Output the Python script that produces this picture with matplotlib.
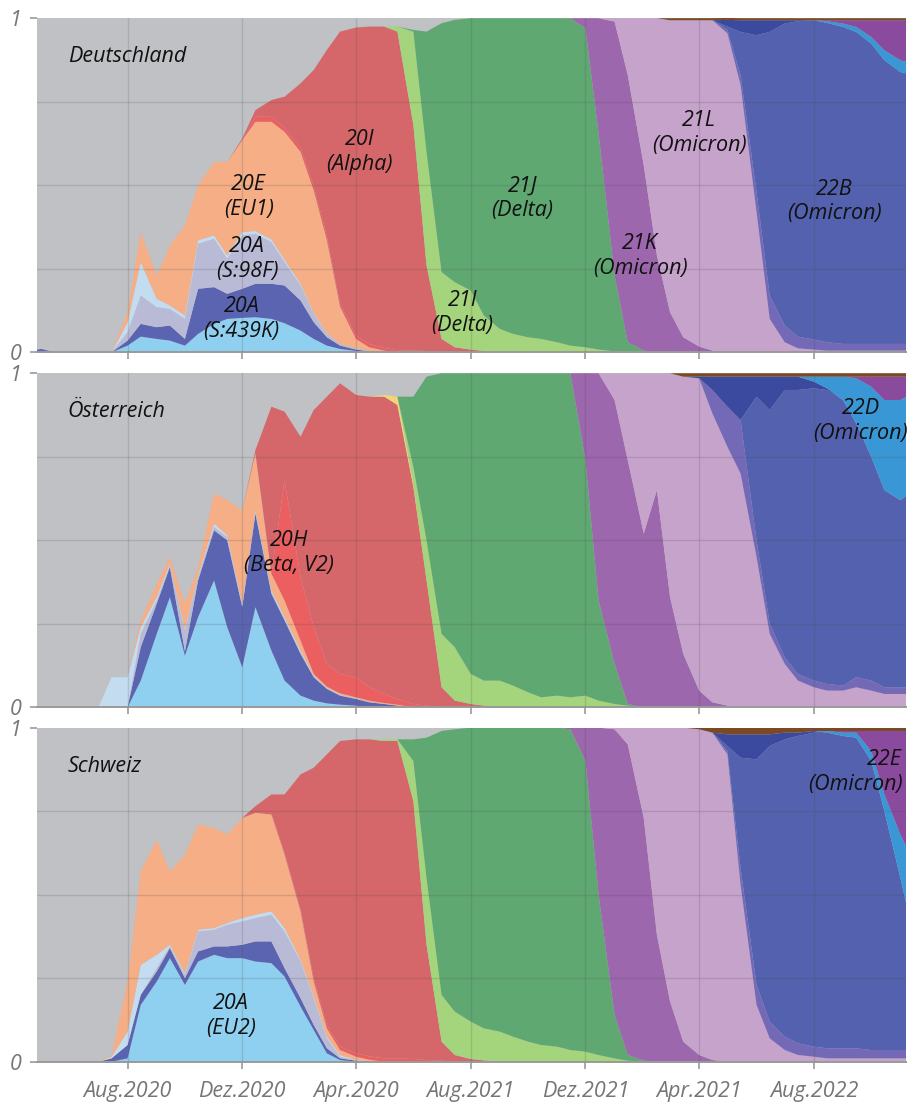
import numpy as np
import pandas as pd
import matplotlib
matplotlib.use('Agg')
import matplotlib.pyplot as plt

plt.rcParams['font.family'] = ['Open Sans', 'DejaVu Sans']

# semi-monthly sampling dates (1st and 15th)
dates = pd.date_range('2020-04-15', '2022-11-15', freq='SMS')

tick_dates = ['2020-08-01', '2020-12-01', '2021-04-01', '2021-08-01',
              '2021-12-01', '2022-04-01', '2022-08-01']
tick_labels = ['Aug.2020', 'Dez.2020', 'Apr.2020', 'Aug.2021',
               'Dez.2021', 'Apr.2021', 'Aug.2022']

# clade shares, each as (first date, values from that date on)
# ---- Deutschland
de_eu2 = ('2020-08-01', [0.02, 0.047, 0.04, 0.035, 0.02, 0.055, 0.085, 0.1, 0.103, 0.105, 0.1, 0.087,
                         0.065, 0.04, 0.02, 0.01, 0.004])
de_s439k = ('2020-05-01', [0.01, 0, 0, 0, 0, 0, 0.015, 0.038, 0.035, 0.045, 0.02, 0.135, 0.11, 0.075,
                           0.087, 0.1, 0.105, 0.113, 0.09, 0.05, 0.025, 0.01, 0.004, 0.003])
de_s98f = ('2020-08-01', [0.025, 0.085, 0.06, 0.05, 0.06, 0.135, 0.145, 0.105, 0.16, 0.15, 0.125, 0.07,
                          0.045, 0.025, 0.01, 0.005, 0.004, 0.002])
de_20a = ('2020-08-01', [0.03, 0.1, 0.025, 0.01, 0.01, 0.01, 0.01, 0.01, 0.01, 0.008, 0.008, 0.007,
                         0.005, 0.003, 0.002])
de_eu1 = ('2020-08-01', [0.03, 0.09, 0.07, 0.18, 0.27, 0.165, 0.22, 0.28, 0.275, 0.327, 0.352, 0.383,
                         0.395, 0.367, 0.279, 0.112, 0.028, 0.01, 0.005])
de_beta = ('2020-12-15', [0.015, 0.015, 0.012, 0.012, 0.012, 0.012, 0.01, 0.01, 0.01, 0.008, 0.006,
                          0.005, 0.004, 0.003])
de_alpha = ('2020-12-01', [0.005, 0.02, 0.05, 0.093, 0.193, 0.348, 0.557, 0.813, 0.922, 0.95, 0.962,
                           0.954, 0.675, 0.256, 0.037, 0.015, 0.008, 0.004])
de_gamma = ('2021-05-01', [0.0])
de_21i = ('2021-05-15', [0.015, 0.28, 0.34, 0.2, 0.195, 0.177, 0.106, 0.07, 0.055, 0.045, 0.04, 0.03,
                         0.02, 0.015, 0.008, 0.003])
de_21j = ('2021-06-01', [0.005, 0.36, 0.745, 0.785, 0.815, 0.89, 0.93, 0.945, 0.955, 0.96, 0.97, 0.98,
                         0.955, 0.647, 0.227, 0.03, 0.005])
de_21k = ('2021-12-01', [0.03, 0.345, 0.76, 0.8, 0.555, 0.29, 0.12, 0.045, 0.017, 0.005])
de_21l = ('2022-01-01', [0.01, 0.17, 0.44, 0.71, 0.874, 0.949, 0.977, 0.989, 0.955, 0.8, 0.42, 0.1, 0.03,
                         0.012, 0.008, 0.005, 0.005, 0.005, 0.005, 0.005, 0.005, 0.005])
de_22a = ('2022-05-01', [0.01, 0.03, 0.06, 0.07, 0.05, 0.035, 0.03, 0.025, 0.02, 0.02, 0.02, 0.02, 0.02, 0.02])
de_22b = ('2022-05-01', [0.01, 0.129, 0.469, 0.789, 0.904, 0.944, 0.956, 0.956, 0.949, 0.934, 0.899,
                         0.849, 0.814, 0.804])
de_22c = ('2022-05-01', [0.02, 0.035, 0.045, 0.035, 0.01, 0.003])
de_22d = ('2022-08-15', [0.005, 0.01, 0.015, 0.02, 0.03, 0.035, 0.035])
de_22e = ('2022-08-15', [0.003, 0.01, 0.02, 0.05, 0.09, 0.12, 0.13])
de_rest = ('2022-03-01', [0.006, 0.006, 0.006, 0.006, 0.006, 0.006, 0.006, 0.006, 0.006, 0.006, 0.006,
                          0.006, 0.006, 0.006, 0.006, 0.006, 0.006, 0.006])

# ---- Österreich
at_eu2 = ('2020-08-15', [0.08, 0.22, 0.33, 0.155, 0.27, 0.38, 0.24, 0.12, 0.3, 0.17, 0.08, 0.035, 0.02,
                         0.012, 0.008, 0.005])
at_s439k = ('2020-08-15', [0.1, 0.09, 0.09, 0.012, 0.11, 0.15, 0.26, 0.18, 0.28, 0.17, 0.18, 0.125, 0.07,
                           0.043, 0.027, 0.02, 0.015, 0.01, 0.005])
at_s98f = ('2020-08-15', [0.04, 0.01, 0.005, 0.063, 0.01, 0.01, 0.01, 0.005, 0.005, 0.005, 0.005, 0.005,
                          0.003, 0.002, 0.001, 0.001, 0.001])
at_20a = ('2020-07-15', [0.09, 0.09, 0.02, 0.01, 0.005, 0.005, 0.005, 0.01, 0.005, 0.005, 0.005, 0.005,
                         0.005, 0.005, 0.002, 0.001, 0.001, 0.001])
at_eu1 = ('2020-08-15', [0.02, 0.04, 0.02, 0.075, 0.025, 0.09, 0.105, 0.28, 0.17, 0.05, 0.05, 0.03, 0.005,
                         0.004, 0.005, 0.003, 0.004, 0.003, 0.003])
at_beta = ('2021-01-15', [0.36, 0.19, 0.14, 0.068, 0.058, 0.06, 0.04, 0.027, 0.017, 0.01, 0.005])
at_alpha = ('2020-12-15', [0.01, 0.5, 0.205, 0.42, 0.65, 0.8, 0.87, 0.845, 0.87, 0.89, 0.88, 0.65, 0.375,
                           0.06, 0.02, 0.01, 0.005])
at_gamma = ('2021-05-01', [0.005, 0.025, 0.01])
at_21i = ('2021-06-01', [0.05, 0.12, 0.16, 0.16, 0.09, 0.075, 0.08, 0.065, 0.045, 0.03, 0.035, 0.03,
                         0.035, 0.02, 0.01, 0.005])
at_21j = ('2021-06-01', [0.21, 0.49, 0.78, 0.82, 0.9, 0.92, 0.92, 0.935, 0.955, 0.97, 0.965, 0.97, 0.705,
                         0.3, 0.12, 0.005])
at_21k = ('2021-12-01', [0.26, 0.68, 0.79, 0.73, 0.52, 0.65, 0.33, 0.16, 0.05, 0.015, 0.005])
at_21l = ('2022-01-01', [0.08, 0.26, 0.48, 0.35, 0.67, 0.83, 0.935, 0.865, 0.775, 0.7, 0.45, 0.22, 0.13,
                         0.08, 0.06, 0.05, 0.05, 0.06, 0.05, 0.04, 0.04, 0.04])
at_22a = ('2022-04-15', [0.07, 0.12, 0.16, 0.05, 0.03, 0.02, 0.02, 0.02, 0.02, 0.015, 0.03, 0.03, 0.02,
                         0.02, 0.02])
at_22b = ('2022-06-01', [0.43, 0.64, 0.8, 0.85, 0.875, 0.88, 0.855, 0.76, 0.67, 0.59, 0.56, 0.59])
at_22c = ('2022-04-01', [0.005, 0.04, 0.09, 0.13, 0.06, 0.1, 0.04, 0.04, 0.02, 0.005])
at_22d = ('2022-08-01', [0.015, 0.035, 0.07, 0.135, 0.21, 0.27, 0.3, 0.29])
at_22e = ('2022-09-15', [0.005, 0.03, 0.07, 0.07, 0.05])
at_rest = ('2022-03-15', [0.01, 0.01, 0.01, 0.01, 0.01, 0.01, 0.01, 0.01, 0.01, 0.01, 0.01, 0.01, 0.01,
                          0.01, 0.01, 0.01, 0.01])

# ---- Schweiz
ch_eu2 = ('2020-08-01', [0.01, 0.17, 0.24, 0.31, 0.23, 0.3, 0.32, 0.31, 0.31, 0.3, 0.295, 0.255, 0.165,
                         0.095, 0.025, 0.005])
ch_s439k = ('2020-07-15', [0.01, 0.04, 0.03, 0.03, 0.03, 0.02, 0.03, 0.025, 0.035, 0.04, 0.06, 0.065,
                           0.025, 0.025, 0.015, 0.015, 0.005, 0.003])
ch_s98f = ('2020-09-01', [0.01, 0.005, 0.01, 0.06, 0.05, 0.065, 0.07, 0.07, 0.08, 0.11, 0.11, 0.08, 0.03,
                          0.005, 0.002, 0.002])
ch_20a = ('2020-07-15', [0.005, 0.04, 0.09, 0.04, 0.005, 0.005, 0.005, 0.005, 0.005, 0.01, 0.01, 0.01,
                         0.01, 0.005, 0.005, 0.005, 0.005, 0.001])
ch_eu1 = ('2020-07-15', [0.005, 0.15, 0.28, 0.345, 0.22, 0.355, 0.315, 0.3, 0.265, 0.3, 0.305, 0.29, 0.22,
                         0.145, 0.045, 0.025, 0.015, 0.009, 0.004])
ch_beta = ('2021-01-01', [0.005, 0.005, 0.008, 0.01, 0.01, 0.01, 0.01, 0.01, 0.01, 0.01, 0.008, 0.005,
                          0.003])
ch_alpha = ('2020-12-15', [0.02, 0.055, 0.175, 0.402, 0.63, 0.81, 0.915, 0.94, 0.949, 0.95, 0.95, 0.772,
                           0.345, 0.057, 0.02, 0.008, 0.004])
ch_gamma = ('2021-05-01', [0.0])
ch_21i = ('2021-05-01', [0.005, 0.005, 0.12, 0.2, 0.14, 0.13, 0.112, 0.096, 0.09, 0.075, 0.06, 0.05,
                         0.045, 0.035, 0.03, 0.02, 0.01, 0.003])
ch_21j = ('2021-06-01', [0.065, 0.42, 0.79, 0.845, 0.88, 0.9, 0.91, 0.925, 0.94, 0.95, 0.955, 0.96, 0.87,
                         0.48, 0.13, 0.017, 0.003])
ch_21k = ('2021-11-15', [0.005, 0.1, 0.5, 0.855, 0.93, 0.727, 0.38, 0.18, 0.06, 0.02, 0.005])
ch_21l = ('2022-01-01', [0.005, 0.05, 0.27, 0.62, 0.82, 0.94, 0.975, 0.98, 0.92, 0.53, 0.17, 0.07, 0.035,
                         0.02, 0.015, 0.01, 0.01, 0.01, 0.01, 0.01, 0.01, 0.01])
ch_22a = ('2022-05-01', [0.01, 0.05, 0.06, 0.05, 0.04, 0.035, 0.03, 0.03, 0.03, 0.03, 0.025, 0.025, 0.025,
                         0.025])
ch_22b = ('2022-05-01', [0.015, 0.33, 0.675, 0.825, 0.89, 0.92, 0.94, 0.945, 0.935, 0.93, 0.865, 0.715,
                         0.515, 0.345])
ch_22c = ('2022-05-01', [0.035, 0.07, 0.075, 0.035, 0.02, 0.01, 0.005])
ch_22d = ('2022-08-15', [0.005, 0.01, 0.015, 0.03, 0.05, 0.13, 0.22])
ch_22e = ('2022-09-01', [0.005, 0.005, 0.06, 0.19, 0.31, 0.39])
ch_rest = ('2022-04-01', [0.005, 0.015, 0.02, 0.02, 0.02, 0.02, 0.015, 0.015, 0.01, 0.01, 0.01, 0.01,
                          0.01, 0.01, 0.01, 0.01])

# colours in stacking order (bottom -> top); grey background = not assigned
clade_colors = ['#8fcfef', '#5b64b1', '#b9bad6', '#c3dcf0', '#f5ae86', '#eb5f60', '#d5666a',
                '#f1d675', '#a4d47c', '#5fa872', '#9c67ad', '#c6a3cb', '#7469b7', '#5361ae',
                '#3b4a9f', '#3a97d6', '#8a4b9f', '#7b4a24']

panels = [
    ('Deutschland', [de_eu2, de_s439k, de_s98f, de_20a, de_eu1, de_beta, de_alpha, de_gamma, de_21i,
                     de_21j, de_21k, de_21l, de_22a, de_22b, de_22c, de_22d, de_22e, de_rest]),
    ('Österreich', [at_eu2, at_s439k, at_s98f, at_20a, at_eu1, at_beta, at_alpha, at_gamma, at_21i,
                    at_21j, at_21k, at_21l, at_22a, at_22b, at_22c, at_22d, at_22e, at_rest]),
    ('Schweiz', [ch_eu2, ch_s439k, ch_s98f, ch_20a, ch_eu1, ch_beta, ch_alpha, ch_gamma, ch_21i,
                 ch_21j, ch_21k, ch_21l, ch_22a, ch_22b, ch_22c, ch_22d, ch_22e, ch_rest]),
]

# clade labels per panel: (date, share, text, alignment)
labels = {
    'Deutschland': [('2020-12-08', 0.465, '20E\n(EU1)', 'center'),
                    ('2020-12-06', 0.279, '20A\n(S:98F)', 'center'),
                    ('2020-11-30', 0.10, '20A\n(S:439K)', 'center'),
                    ('2021-04-05', 0.60, '20I\n(Alpha)', 'center'),
                    ('2021-07-23', 0.118, '21I\n(Delta)', 'center'),
                    ('2021-09-25', 0.462, '21J\n(Delta)', 'center'),
                    ('2022-01-28', 0.288, '21K\n(Omicron)', 'center'),
                    ('2022-04-01', 0.656, '21L\n(Omicron)', 'center'),
                    ('2022-08-23', 0.452, '22B\n(Omicron)', 'center')],
    'Österreich': [('2021-01-20', 0.462, '20H\n(Beta, V2)', 'center'),
                   ('2022-09-20', 0.857, '22D\n(Omicron)', 'center')],
    'Schweiz': [('2020-11-19', 0.137, '20A\n(EU2)', 'center'),
                ('2022-11-03', 0.867, '22E\n(Omicron)', 'right')],
}


def expand(series):
    start, values = series
    out = np.zeros(len(dates))
    i = dates.get_loc(pd.Timestamp(start))
    out[i:i + len(values)] = values
    return out


fig = plt.figure(figsize=(9.19, 11.05), dpi=100)
bottoms = [0.6812, 0.3599, 0.0392]
ticks = pd.to_datetime(tick_dates)
fs = 15.5

for k, (country, series) in enumerate(panels):
    ax = fig.add_axes([0.0406, bottoms[k], 0.9453, 0.3023])
    ax.set_facecolor('#bfc1c4')
    ax.stackplot(dates, *[expand(s) for s in series], colors=clade_colors, linewidth=0)

    ax.set_xlim(pd.Timestamp('2020-04-27'), pd.Timestamp('2022-11-07'))
    ax.set_ylim(0, 1)

    # grid drawn over the areas
    for t in ticks:
        ax.axvline(t, color='#4a4a4a', alpha=0.18, lw=1.0, zorder=3)
    for y in (0.25, 0.5, 0.75):
        ax.axhline(y, color='#4a4a4a', alpha=0.18, lw=1.0, zorder=3)

    for side in ('top', 'right', 'left'):
        ax.spines[side].set_visible(False)
    ax.spines['bottom'].set_color('#9a9a9a')
    ax.spines['bottom'].set_linewidth(1.4)

    ax.set_yticks([0, 1])
    ax.set_yticklabels(['0', '1'], fontsize=fs, style='italic', color='#767676')
    ax.tick_params(axis='y', length=5, width=1.2, color='#9a9a9a', pad=6)
    ax.set_xticks(ticks)
    if k == 2:
        ax.set_xticklabels(tick_labels, fontsize=fs, style='italic', color='#767676')
    else:
        ax.set_xticklabels([])
    ax.tick_params(axis='x', length=5, width=1.2, color='#9a9a9a', pad=9)

    ax.text(0.035, 0.885, country, transform=ax.transAxes, fontsize=fs, style='italic',
            ha='left', va='center', color='#111111', zorder=5)
    for d, y, txt, ha in labels[country]:
        ax.text(pd.Timestamp(d), y, txt, fontsize=fs, style='italic', ha=ha, va='center',
                multialignment=ha, linespacing=1.22, color='#111111', zorder=5)

fig.savefig('out.png', dpi=100)
